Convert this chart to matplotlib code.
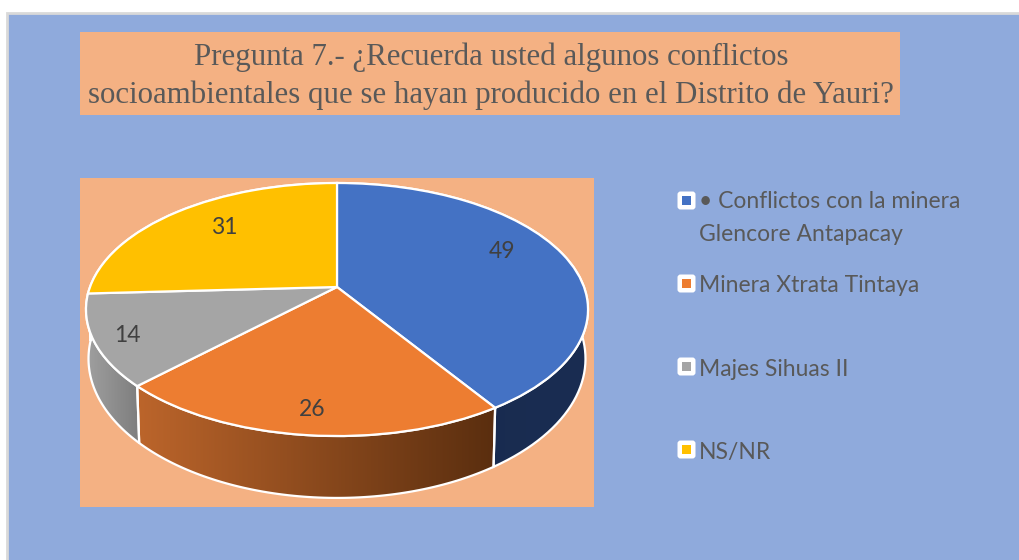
import numpy as np
import matplotlib
matplotlib.use('Agg')
import matplotlib.pyplot as plt
from matplotlib.patches import Rectangle, FancyBboxPatch, Polygon
from matplotlib.transforms import Transform

title_lines = ['Pregunta 7.- ¿Recuerda usted algunos conflictos',
               'socioambientales que se hayan producido en el Distrito de Yauri?']
categories = ['• Conflictos con la minera\nGlencore Antapacay', 'Minera Xtrata Tintaya',
              'Majes Sihuas II', 'NS/NR']
values = [49, 26, 14, 31]
colors = ['#4472c4', '#ed7d31', '#a5a5a5', '#ffc000']

# wall colours, left to right
wall_colors = [('#172a4e', '#1a2d52'), ('#bc652b', '#5a2e0f'), ('#a0a0a0', '#7d7d7d'), ('#7f6000', '#7f6000')]

# layout in pixels
cx, cy = 337, 287
a, b, c = 247, 122.5, 0.178
label_xy = [(502, 251), (312, 410), (127, 336), (224, 228)]
legend_y = [201, 284, 367, 450]
legend_text_y = [218, 286, 369, 452]


def project(u, v, sx=1.0, sy=1.0, dy=0.0):
    w = 1 + c * v
    return cx + sx * a * u / w, cy - (sy * b * v / w + dy)


class Persp(Transform):
    input_dims = 2
    output_dims = 2

    def transform_non_affine(self, xy):
        x, y = project(xy[:, 0], xy[:, 1])
        return np.column_stack([x, y])


def wall_poly(t1, t2):
    # t in degrees, math convention like the pie wedges
    th = np.radians(np.linspace(t1, t2, 80))
    x1, y1 = project(np.cos(th), np.sin(th))
    x2, y2 = project(np.cos(th), np.sin(th), sx=0.99, sy=1.1, dy=-47)
    return np.column_stack([np.r_[x1, x2[::-1]], np.r_[y1, y2[::-1]]])


fig = plt.figure(figsize=(10.19, 5.60), dpi=100, facecolor='white')
ax = fig.add_axes([0, 0, 1, 1])

wedges, _ = ax.pie(values, colors=colors, startangle=90, counterclock=False,
                   wedgeprops={'edgecolor': 'white', 'linewidth': 1.6, 'zorder': 5})
persp = Persp() + ax.transData
for w in wedges:
    w.set_transform(persp)

ax.add_patch(Rectangle((7, 13), 1030, 560, facecolor='#8faadc', edgecolor='#d9d9d9', linewidth=2, zorder=0))
ax.add_patch(Rectangle((80, 32), 820, 83, facecolor='#f4b183', edgecolor='none', zorder=1))
ax.add_patch(Rectangle((80, 178), 514, 329, facecolor='#f4b183', edgecolor='none', zorder=1))

# side walls, under the top face
for w, (c1, c2) in zip(wedges, wall_colors):
    pts = wall_poly(w.theta1, w.theta2)
    grad = matplotlib.colors.LinearSegmentedColormap.from_list('g', [c1, c2])
    x0, x1 = pts[:, 0].min(), pts[:, 0].max()
    y0, y1 = pts[:, 1].min(), pts[:, 1].max()
    im = ax.imshow(np.linspace(0, 1, 256).reshape(1, -1), cmap=grad, extent=(x0, x1, y1, y0),
                   aspect='auto', zorder=3)
    outline = Polygon(pts, closed=True, facecolor='none', edgecolor='white', linewidth=1.6, zorder=4)
    ax.add_patch(outline)
    im.set_clip_path(outline)

for v, (x, y) in zip(values, label_xy):
    ax.text(x, y, str(v), ha='center', va='center', fontsize=16.5, color='#404040',
            family='Lato', zorder=6)

for i, line in enumerate(title_lines):
    ax.text(491, [57, 95][i], line, ha='center', va='center', fontsize=22.2, color='#595959',
            family='Liberation Serif', zorder=6)

for name, col, y, ty in zip(categories, colors, legend_y, legend_text_y):
    ax.add_patch(FancyBboxPatch((679, y - 8), 15, 15, boxstyle='round,pad=1.5,rounding_size=3',
                                facecolor='white', edgecolor='none', zorder=5))
    ax.add_patch(Rectangle((682, y - 5), 9, 9, facecolor=col, edgecolor='none', zorder=6))
    ax.text(699, ty, name, ha='left', va='center', fontsize=16.5, color='#595959', family='Lato',
            linespacing=1.7, zorder=6)

ax.set_xlim(0, 1019)
ax.set_ylim(560, 0)
ax.set_aspect('auto')
ax.set_axis_off()

plt.savefig('out.png', dpi=100, facecolor='white')
